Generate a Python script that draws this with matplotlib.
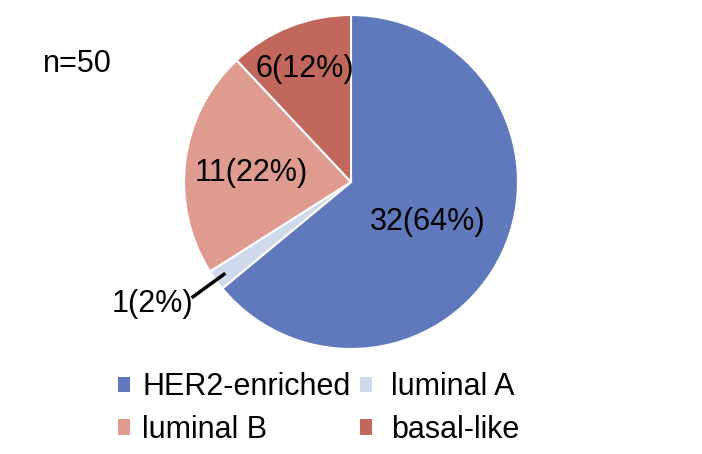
import numpy as np
import matplotlib.pyplot as plt

plt.rcParams['font.family'] = ['Liberation Sans', 'DejaVu Sans']

subtypes = ['HER2-enriched', 'luminal A', 'luminal B', 'basal-like']
counts = [32, 1, 11, 6]
colors = ['#6079BC', '#CFD9EC', '#E09B91', '#C1675C']
total = sum(counts)

fig = plt.figure(figsize=(7.02, 4.54), dpi=100)
ax = fig.add_axes([0, 0, 1, 1])
ax.axis('off')

cx, cy, r = 351, 272, 167
wedges, _ = ax.pie(counts, colors=colors, startangle=90, counterclock=False,
                   center=(cx, cy), radius=r,
                   wedgeprops=dict(edgecolor='white', linewidth=1.5))
ax.set_xlim(0, 702)
ax.set_ylim(0, 454)

# label distance (fraction of radius) per wedge
dists = [0.51, None, 0.60, 0.75]
for w, n, d in zip(wedges, counts, dists):
    mid = np.deg2rad((w.theta1 + w.theta2) / 2)
    lab = '%d(%d%%)' % (n, round(100 * n / total))
    if d is None:
        x0, y0 = cx + 0.93 * r * np.cos(mid), cy + 0.93 * r * np.sin(mid)
        x1, y1 = cx + 1.18 * r * np.cos(mid), cy + 1.18 * r * np.sin(mid)
        ax.plot([x0, x1], [y0, y1], color='black', lw=2.5, solid_capstyle='butt')
        ax.text(x1 + 2, y1 - 3, lab, ha='right', va='center_baseline', fontsize=22)
    else:
        ax.text(cx + d * r * np.cos(mid), cy + d * r * np.sin(mid), lab,
                ha='center', va='center_baseline', fontsize=22)

ax.text(43, 393, 'n=50', ha='left', va='center_baseline', fontsize=22)

# legend laid out row by row, two columns
leg_kw = dict(frameon=False, fontsize=22, handlelength=0.4, handleheight=0.4,
              labelspacing=0.42, borderpad=0, borderaxespad=0, loc='center left')
leg1 = ax.legend([wedges[0], wedges[2]], [subtypes[0], subtypes[2]],
                 bbox_to_anchor=(118 / 702, 0.100), handletextpad=0.39, **leg_kw)
ax.add_artist(leg1)
leg2 = ax.legend([wedges[1], wedges[3]], [subtypes[1], subtypes[3]],
                 bbox_to_anchor=(360 / 702, 0.100), handletextpad=0.62, **leg_kw)
for lg in (leg1, leg2):
    for h in lg.legend_handles:
        h.set_edgecolor('none')

fig.savefig('out.png', dpi=100)
